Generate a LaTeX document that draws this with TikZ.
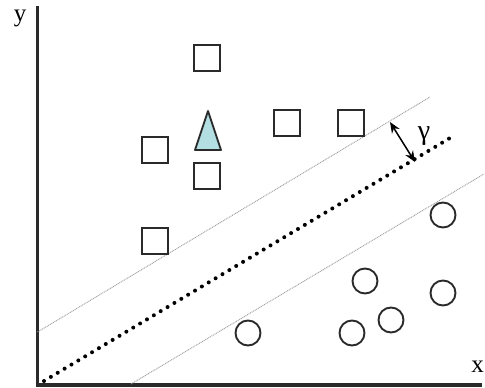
\documentclass[tikz,border=0pt]{standalone}
\usepackage{fontspec}
\setmainfont{Liberation Serif}
\usetikzlibrary{arrows.meta}
\definecolor{tri}{HTML}{B3DEE2}
\definecolor{ink}{HTML}{2A2A2A}
\begin{document}
\begin{tikzpicture}[x=1pt,y=-1pt,
  sq/.style={draw=ink,line width=2pt,minimum size=26pt,inner sep=0pt},
  circ/.style={circle,draw=ink,line width=1.9pt,minimum size=25pt,inner sep=0pt},
  margin/.style={draw=gray!75,line width=0.9pt,dash pattern=on 1pt off 0.8pt},
  hyper/.style={draw=black,line width=4pt,line cap=round,dash pattern=on 0pt off 8pt},
  axis/.style={draw=ink,line width=3.2pt},
  lbl/.style={font=\fontsize{25}{25}\selectfont,inner sep=0pt}]
\useasboundingbox (0,0) rectangle (485,388);
% axes
\coordinate (O) at (37.5,385);
\coordinate (Ytop) at (37.5,6);
\coordinate (Xend) at (482,385);
\draw[axis] (Ytop) -- (O) -- (Xend);
\node[lbl,anchor=base] (ylab) at (20,21) {y};
\node[lbl,anchor=base] (xlab) at (477.5,372) {x};
% margins and hyperplane
\coordinate (u1) at (37.5,332);
\coordinate (u2) at (430,97);
\coordinate (l1) at (131,384);
\coordinate (l2) at (484,174);
\coordinate (h1) at (44,381);
\coordinate (h2) at (455,135);
\draw[margin] (u1) -- (u2);
\draw[margin] (l1) -- (l2);
\draw[hyper] (h1) -- (h2);
% gamma arrow
\coordinate (g1) at (390,122);
\coordinate (g2) at (415,162);
\draw[line width=1.5pt,{Stealth[length=11pt,width=9pt]}-{Stealth[length=11pt,width=9pt]}] (g1) -- (g2);
\node[lbl,font=\fontsize{28}{28}\selectfont,anchor=base] (gam) at (424,139) {γ};
% squares
\node[sq] (s1) at (207,58) {};
\node[sq] (s2) at (155,150) {};
\node[sq] (s3) at (207,176) {};
\node[sq] (s4) at (286.5,123) {};
\node[sq] (s5) at (351,123) {};
\node[sq] (s6) at (155,241) {};
% triangle
\draw[draw=ink,line width=1.8pt,fill=tri,line join=round] (208,111) -- (221,150) -- (195,150) -- cycle;
% circles
\node[circ] (c1) at (443,215) {};
\node[circ] (c2) at (365,281) {};
\node[circ] (c3) at (443,293) {};
\node[circ] (c4) at (391,320) {};
\node[circ] (c5) at (352,333) {};
\node[circ] (c6) at (248,333) {};
\end{tikzpicture}
\end{document}
